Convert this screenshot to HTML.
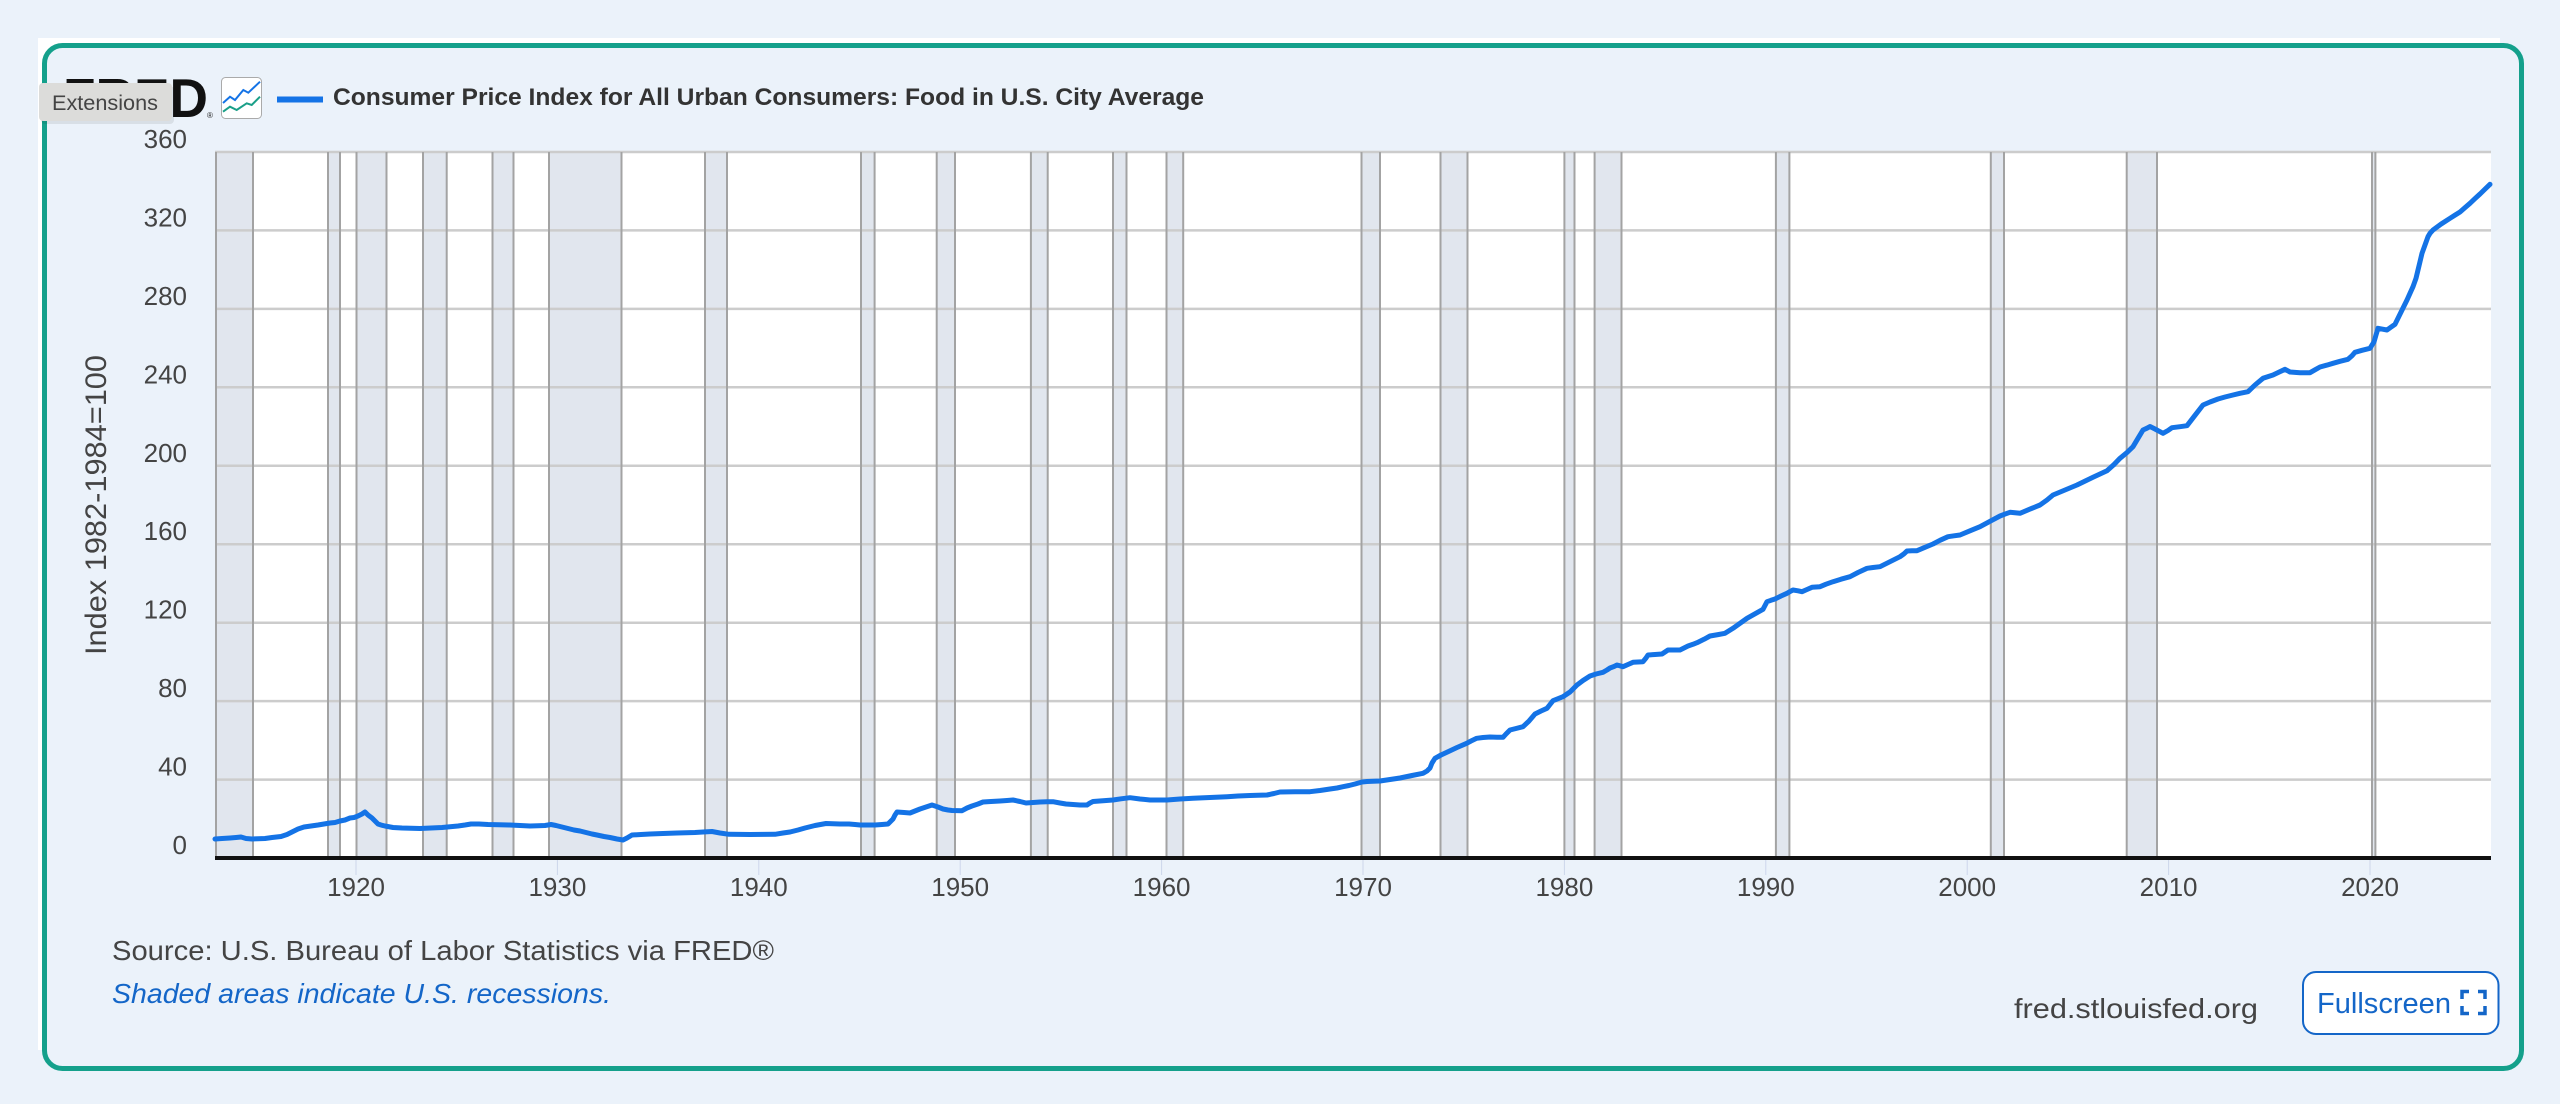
<!DOCTYPE html>
<html><head><meta charset="utf-8"><style>
html,body{margin:0;padding:0;background:#ebf2fa;}
svg{display:block;}
text{font-family:"Liberation Sans",sans-serif;}
</style></head><body>
<svg width="2560" height="1104" viewBox="0 0 2560 1104" xmlns="http://www.w3.org/2000/svg">
<rect x="0" y="0" width="2560" height="1104" fill="#ebf2fa"/>
<rect x="38" y="38" width="2462" height="1012" fill="#ffffff"/>
<rect x="44.5" y="45.5" width="2477" height="1023" rx="18" ry="18" fill="#ebf2fa" stroke="#14a08b" stroke-width="5"/>

<!-- header -->
<text x="63" y="117" font-size="55" font-weight="bold" fill="#111" textLength="145" lengthAdjust="spacingAndGlyphs">FRED</text>
<text x="207" y="118" font-size="8" fill="#222">®</text>
<rect x="39" y="83" width="133" height="38" rx="4" fill="#000" opacity="0.08" transform="translate(2,3)"/>
<rect x="39" y="83" width="133" height="38" rx="4" fill="#dcdcda"/>
<text x="52" y="110" font-size="21" fill="#444" textLength="106" lengthAdjust="spacingAndGlyphs">Extensions</text>
<rect x="221.5" y="77.5" width="40" height="41" rx="4" fill="#fff" stroke="#aaa" stroke-width="1"/>
<polyline points="223,103 230,96.7 235,100 243.3,90 248.3,92.7 260,81.7" fill="none" stroke="#1473e6" stroke-width="2"/>
<polyline points="223,111.7 230,106.7 236.7,110 246.7,103.3 251.7,105 260,96.7" fill="none" stroke="#1a9f88" stroke-width="2"/>
<line x1="277" y1="99.5" x2="323" y2="99.5" stroke="#1473e6" stroke-width="6"/>
<text x="333" y="105" font-size="24" font-weight="bold" fill="#333" textLength="871" lengthAdjust="spacingAndGlyphs">Consumer Price Index for All Urban Consumers: Food in U.S. City Average</text>

<!-- plot background -->
<rect x="215" y="152" width="2276" height="706" fill="#ffffff"/>

<!-- recession fills -->
<g fill="#e1e6ee">
<rect x="215" y="152" width="38" height="706"/>
<rect x="328" y="152" width="12" height="706"/>
<rect x="356.5" y="152" width="30" height="706"/>
<rect x="423" y="152" width="23.7" height="706"/>
<rect x="492.5" y="152" width="21" height="706"/>
<rect x="549" y="152" width="72.5" height="706"/>
<rect x="705" y="152" width="22" height="706"/>
<rect x="861" y="152" width="13.6" height="706"/>
<rect x="936.7" y="152" width="18.3" height="706"/>
<rect x="1030.9" y="152" width="16.8" height="706"/>
<rect x="1113" y="152" width="13.5" height="706"/>
<rect x="1166.5" y="152" width="16.7" height="706"/>
<rect x="1361.5" y="152" width="18.5" height="706"/>
<rect x="1440.5" y="152" width="27" height="706"/>
<rect x="1564.4" y="152" width="10.1" height="706"/>
<rect x="1594.6" y="152" width="26.9" height="706"/>
<rect x="1775.9" y="152" width="13.5" height="706"/>
<rect x="1990.8" y="152" width="13.2" height="706"/>
<rect x="2126.7" y="152" width="30.3" height="706"/>
<rect x="2372" y="152" width="3.4" height="706"/>
</g>

<!-- horizontal gridlines -->
<g stroke="#cccccc" stroke-width="2.5">
<line x1="215" y1="152" x2="2491" y2="152"/>
<line x1="215" y1="230.4" x2="2491" y2="230.4"/>
<line x1="215" y1="308.9" x2="2491" y2="308.9"/>
<line x1="215" y1="387.3" x2="2491" y2="387.3"/>
<line x1="215" y1="465.8" x2="2491" y2="465.8"/>
<line x1="215" y1="544.2" x2="2491" y2="544.2"/>
<line x1="215" y1="622.7" x2="2491" y2="622.7"/>
<line x1="215" y1="701.1" x2="2491" y2="701.1"/>
<line x1="215" y1="779.6" x2="2491" y2="779.6"/>
</g>

<!-- recession edges -->
<g stroke="#a3a3a3" stroke-width="2">
<line x1="216" y1="152" x2="216" y2="858"/><line x1="253" y1="152" x2="253" y2="858"/>
<line x1="328" y1="152" x2="328" y2="858"/><line x1="340" y1="152" x2="340" y2="858"/>
<line x1="356.5" y1="152" x2="356.5" y2="858"/><line x1="386.5" y1="152" x2="386.5" y2="858"/>
<line x1="423" y1="152" x2="423" y2="858"/><line x1="446.7" y1="152" x2="446.7" y2="858"/>
<line x1="492.5" y1="152" x2="492.5" y2="858"/><line x1="513.5" y1="152" x2="513.5" y2="858"/>
<line x1="549" y1="152" x2="549" y2="858"/><line x1="621.5" y1="152" x2="621.5" y2="858"/>
<line x1="705" y1="152" x2="705" y2="858"/><line x1="727" y1="152" x2="727" y2="858"/>
<line x1="861" y1="152" x2="861" y2="858"/><line x1="874.6" y1="152" x2="874.6" y2="858"/>
<line x1="936.7" y1="152" x2="936.7" y2="858"/><line x1="955" y1="152" x2="955" y2="858"/>
<line x1="1030.9" y1="152" x2="1030.9" y2="858"/><line x1="1047.7" y1="152" x2="1047.7" y2="858"/>
<line x1="1113" y1="152" x2="1113" y2="858"/><line x1="1126.5" y1="152" x2="1126.5" y2="858"/>
<line x1="1166.5" y1="152" x2="1166.5" y2="858"/><line x1="1183.2" y1="152" x2="1183.2" y2="858"/>
<line x1="1361.5" y1="152" x2="1361.5" y2="858"/><line x1="1380" y1="152" x2="1380" y2="858"/>
<line x1="1440.5" y1="152" x2="1440.5" y2="858"/><line x1="1467.5" y1="152" x2="1467.5" y2="858"/>
<line x1="1564.4" y1="152" x2="1564.4" y2="858"/><line x1="1574.5" y1="152" x2="1574.5" y2="858"/>
<line x1="1594.6" y1="152" x2="1594.6" y2="858"/><line x1="1621.5" y1="152" x2="1621.5" y2="858"/>
<line x1="1775.9" y1="152" x2="1775.9" y2="858"/><line x1="1789.4" y1="152" x2="1789.4" y2="858"/>
<line x1="1990.8" y1="152" x2="1990.8" y2="858"/><line x1="2004" y1="152" x2="2004" y2="858"/>
<line x1="2126.7" y1="152" x2="2126.7" y2="858"/><line x1="2157" y1="152" x2="2157" y2="858"/>
<line x1="2372" y1="152" x2="2372" y2="858"/><line x1="2375.4" y1="152" x2="2375.4" y2="858"/>
</g>

<!-- x tick marks -->
<g stroke="#ccd6eb" stroke-width="1">
<line x1="356" y1="860" x2="356" y2="875"/>
<line x1="557.4" y1="860" x2="557.4" y2="875"/>
<line x1="758.8" y1="860" x2="758.8" y2="875"/>
<line x1="960.2" y1="860" x2="960.2" y2="875"/>
<line x1="1161.6" y1="860" x2="1161.6" y2="875"/>
<line x1="1363" y1="860" x2="1363" y2="875"/>
<line x1="1564.4" y1="860" x2="1564.4" y2="875"/>
<line x1="1765.8" y1="860" x2="1765.8" y2="875"/>
<line x1="1967.2" y1="860" x2="1967.2" y2="875"/>
<line x1="2168.6" y1="860" x2="2168.6" y2="875"/>
<line x1="2370" y1="860" x2="2370" y2="875"/>
</g>

<!-- data line -->
<polyline fill="none" stroke="#1473e6" stroke-width="5" stroke-linejoin="round" stroke-linecap="round" points="
215,839 222,838.5 230,838 236,837.5 241,837 246,838.5 252,839 258,838.8 265,838.5 272,837.5 281,836.5 287,834.5 292,832 298,829 304,827 311,826 318,825 324,824 330,823 335,822.5 340,821 345,820 350,818 354,817.5 358,816 362,814 365,812 368,815 372,818 375,821 378,824 381,825 385,826 393,827.5 402,828 411,828.2 420,828.5 431,828 442,827.5 450,826.8 458,826 465,825 471,824 479,824 488,824.5 499,824.8 510,825 520,825.5 530,826 538,825.8 545,825.5 551,824.5 556,825.5 562,827 568,828.5 574,830 580,831 586,832.5 592,834 597,835 604,836.5 610,837.5 617,839 623,840 627,838 632,835 641,834.5 650,834 663,833.5 677,833 686,832.8 695,832.5 703,832 712,831.5 720,833 729,834.3 740,834.4 750,834.5 762,834.4 775,834.3 783,833 790,832 798,830 805,828 815,825.5 826,823.5 833,823.8 840,824 849,824 855,824.5 860,825 868,825 875,825 882,824.5 888,824 891,821 893,819 895,815 897,812 904,812.5 910,813 915,811 920,809 926,807 932,805 938,807 943,809 948,810 952,810.5 957,810.6 962,810.7 967,808 972,806 978,804 983,802 991,801.5 1000,801 1007,800.5 1013,800 1020,801.5 1026,803 1033,802.5 1040,802 1047,801.8 1053,801.7 1060,803 1066,804 1073,804.5 1080,805 1087,805 1090,803 1093,801.5 1103,800.7 1113,800 1121,798.8 1130,797.7 1140,799 1150,800 1158,800 1167,800 1180,799 1193,798.3 1210,797.5 1227,796.7 1238,796 1250,795.5 1258,795.2 1267,795 1274,793.5 1280,792 1295,791.8 1310,791.7 1320,790.5 1330,789 1337,788 1343,786.7 1349,785.5 1355,784 1362,782 1367,781.5 1373,781.2 1380,781 1390,779.5 1400,778 1412,775.5 1423,773.3 1427,771 1430,768 1432,763 1435,758.3 1441,755 1448,751.7 1457,747.5 1466.7,743.3 1471,741 1476.7,738.3 1483,737.5 1490,737 1497,737.2 1503,737.3 1506,734 1510,730 1516,728.5 1523,726.7 1529,721 1535,714 1541,711 1547,708.3 1550,704.5 1553,700.7 1558,698.7 1563,696.7 1567,694 1570,692 1574,688 1577,685 1583,680.5 1590,676 1596,674 1603,672.3 1607,670 1610,668 1614,666.5 1617,665 1620,665.8 1623,666.7 1628,664.5 1633,662.3 1638,662 1643,661.7 1646,658 1648,655 1655,654.5 1662,654 1665,652 1668,650 1674,650 1680,650 1684,648 1688,646 1693,644.3 1697,642.7 1704,639.3 1710,636 1718,634.6 1725,633.3 1729,630.8 1733,628.3 1740,623.3 1747,618.3 1755,613.8 1763,609.3 1765,605.5 1767,601.7 1771,600.3 1775,599 1781,596 1787,593.3 1790,591.6 1793,590 1798,590.8 1802,591.7 1807,589.5 1812,587.3 1816,587 1820,586.7 1826,584.2 1833,581.7 1841,579.2 1850,576.7 1858,572.5 1867,568.3 1873,567.5 1880,566.7 1890,561.7 1900,556.7 1904,553.8 1907,551 1912,550.8 1917,550.7 1925,547.3 1933,544 1940,540.3 1948,536.7 1954,535.8 1960,535 1970,530.8 1980,526.7 1990,521.3 2000,516 2005,514.1 2010,512.3 2015,512.8 2020,513.3 2030,509.1 2040,505 2047,500 2053,495 2065,490 2077,485 2085,481.1 2093,477.3 2100,474 2107,470.7 2114,464.5 2120,458.3 2127,452.5 2133,446.7 2138,438.3 2143,430 2147,428.2 2150,426.5 2155,429 2160,431.7 2163,433.3 2168,430.5 2172,427.7 2180,426.7 2187,425.7 2195,415.3 2203,405 2210,402 2218,399 2225,397 2233,395 2240,393.3 2248,391.7 2255,385 2263,378.3 2268,376.6 2273,375 2279,372.1 2285,369.3 2290,372 2295,372.4 2300,372.7 2305,372.7 2310,372.7 2315,369.8 2320,367 2327,365.1 2333,363.3 2340,361.3 2348,359.3 2352,355.8 2355,352.3 2362,350.3 2370,348.3 2372,345 2374,342 2376,335 2378,328.3 2382,329.1 2387,330 2391,327.1 2395,324.3 2401,312.1 2407,300 2410,293.3 2413,286.7 2416,278.3 2418,270 2420,261.7 2422,253.3 2425,245 2428,236.7 2430,233.3 2433,230 2441,224.1 2450,218.3 2455,215.1 2460,212 2465,207.6 2470,203.3 2475,198.6 2480,194 2485,189.1 2490,184.3"/>

<!-- x axis -->
<line x1="215" y1="858" x2="2491" y2="858" stroke="#111" stroke-width="4"/>

<!-- y tick labels -->
<g font-size="26" fill="#444" text-anchor="end">
<text x="187" y="854">0</text>
<text x="187" y="775.6">40</text>
<text x="187" y="697.1">80</text>
<text x="187" y="618.7">120</text>
<text x="187" y="540.2">160</text>
<text x="187" y="461.8">200</text>
<text x="187" y="383.3">240</text>
<text x="187" y="304.9">280</text>
<text x="187" y="226.4">320</text>
<text x="187" y="148">360</text>
</g>

<!-- x tick labels -->
<g font-size="26" fill="#444" text-anchor="middle">
<text x="356" y="896">1920</text>
<text x="557.4" y="896">1930</text>
<text x="758.8" y="896">1940</text>
<text x="960.2" y="896">1950</text>
<text x="1161.6" y="896">1960</text>
<text x="1363" y="896">1970</text>
<text x="1564.4" y="896">1980</text>
<text x="1765.8" y="896">1990</text>
<text x="1967.2" y="896">2000</text>
<text x="2168.6" y="896">2010</text>
<text x="2370" y="896">2020</text>
</g>

<!-- y axis title -->
<text transform="translate(106,505) rotate(-90)" font-size="30" fill="#444" text-anchor="middle" textLength="300" lengthAdjust="spacingAndGlyphs">Index 1982-1984=100</text>

<!-- footer -->
<text x="112" y="960" font-size="28" fill="#444" textLength="662" lengthAdjust="spacingAndGlyphs">Source: U.S. Bureau of Labor Statistics via FRED®</text>
<text x="112" y="1003" font-size="28" font-style="italic" fill="#1466c8" textLength="499" lengthAdjust="spacingAndGlyphs">Shaded areas indicate U.S. recessions.</text>
<text x="2014" y="1018" font-size="28" fill="#444" textLength="244" lengthAdjust="spacingAndGlyphs">fred.stlouisfed.org</text>

<rect x="2303" y="972" width="195.5" height="62" rx="13" ry="13" fill="#ffffff" stroke="#1466c8" stroke-width="2"/>
<text x="2317" y="1013" font-size="29" fill="#1466c8" textLength="134" lengthAdjust="spacingAndGlyphs">Fullscreen</text>
<g fill="none" stroke="#1466c8" stroke-width="3.5">
<path d="M2462,999 V991.5 H2469"/>
<path d="M2478,991.5 H2485 V999"/>
<path d="M2462,1006 V1013.5 H2469"/>
<path d="M2478,1013.5 H2485 V1006"/>
</g>
</svg>
</body></html>
